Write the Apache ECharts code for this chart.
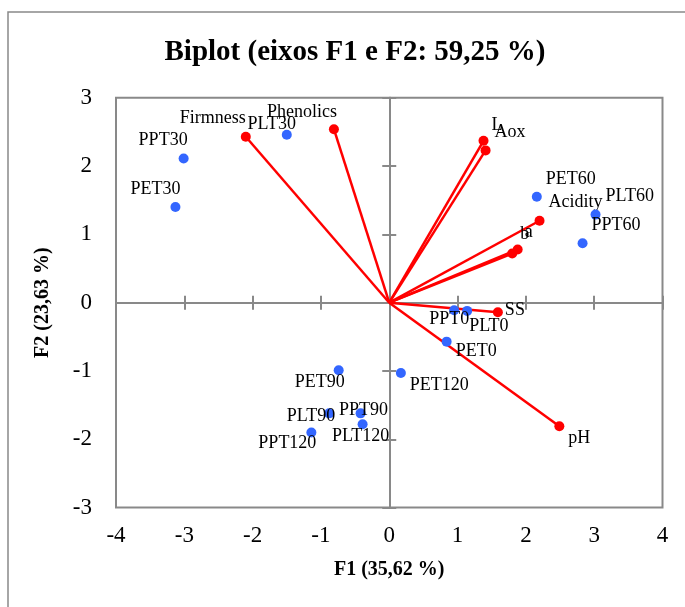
<!DOCTYPE html>
<html><head><meta charset="utf-8">
<script src="https://cdn.jsdelivr.net/npm/echarts@6/dist/echarts.min.js"></script>
<style>html,body{margin:0;padding:0;background:#fff}#c{width:685px;height:607px}</style>
</head><body><div id="c"></div>
<script>
// ---- data ----
const titleText = 'Biplot (eixos F1 e F2: 59,25 %)';
const xName = 'F1 (35,62 %)';
const yName = 'F2 (23,63 %)';
const xTicks = [-4, -3, -2, -1, 0, 1, 2, 3, 4];
const yTicks = [-3, -2, -1, 0, 1, 2, 3];
const varNames = ['Firmness', 'Phenolics', 'L', 'Aox', 'Acidity', 'b', 'a', 'SS', 'pH'];
const varF1 = [-2.10, -0.81, 1.38, 1.41, 2.20, 1.80, 1.88, 1.59, 2.49];
const varF2 = [2.43, 2.54, 2.37, 2.23, 1.20, 0.72, 0.78, -0.14, -1.81];
const obsNames = ['PLT30', 'PPT30', 'PET30', 'PET60', 'PLT60', 'PPT60', 'PPT0', 'PLT0', 'PET0', 'PET120', 'PET90', 'PLT90', 'PPT90', 'PLT120', 'PPT120'];
const obsF1 = [-1.50, -3.01, -3.13, 2.16, 3.02, 2.83, 0.95, 1.14, 0.84, 0.17, -0.74, -0.88, -0.42, -0.39, -1.14];
const obsF2 = [2.46, 2.11, 1.40, 1.55, 1.29, 0.87, -0.11, -0.12, -0.57, -1.03, -0.99, -1.62, -1.62, -1.78, -1.90];

// ---- label placement (style, not data): [align, dx, dy] ----
const labelPlace = {
  Firmness: ['right', 0, -18], Phenolics: ['right', 3, -17], L: ['left', 8, -16], Aox: ['left', 9, -18],
  Acidity: ['left', 9, -18], b: ['left', 8, -19], a: ['left', 7, -17], SS: ['left', 7, -2], pH: ['left', 9, 12],
  PLT30: ['center', -15, -10], PPT30: ['right', 4, -18], PET30: ['right', 5, -18],
  PET60: ['left', 9, -18], PLT60: ['left', 10, -18], PPT60: ['left', 9, -18],
  PPT0: ['center', -5, 9], PLT0: ['left', 2, 15], PET0: ['left', 9, 10], PET120: ['left', 9, 12],
  PET90: ['right', 6, 12], PLT90: ['right', 6, 3], PPT90: ['center', 3, -3], PLT120: ['center', -2, 12],
  PPT120: ['right', 5, 11]
};

const FONT = 'Liberation Serif';
const GRAY = '#898989';
const labelStyle = name => {
  const p = labelPlace[name];
  return { show: true, position: 'inside', align: p[0], verticalAlign: 'middle', offset: [p[1], p[2]],
           formatter: name, fontFamily: FONT, fontSize: 18, color: '#000' };
};

const xMin = xTicks[0], xMax = xTicks[xTicks.length - 1];
const yMin = yTicks[0], yMax = yTicks[yTicks.length - 1];
const zeroAxis = (inside) => ({
  type: 'value', min: null, max: null, interval: 1,
  axisLine: { show: true, onZero: true, onZeroAxisIndex: 0, lineStyle: { color: GRAY, width: 2 } },
  axisTick: { show: true, inside: inside, length: 7, lineStyle: { color: GRAY, width: 2 } },
  axisLabel: { show: false }, splitLine: { show: false }
});
const xZero = inside => Object.assign(zeroAxis(inside), { min: xMin, max: xMax, position: 'bottom' });
const yZero = inside => Object.assign(zeroAxis(inside), { min: yMin, max: yMax, position: 'left' });

const chart = echarts.init(document.getElementById('c'), null, { renderer: 'canvas' });
chart.setOption({
  animation: false,
  backgroundColor: '#fff',
  graphic: [{
    type: 'rect', shape: { x: 8, y: 12, width: 720, height: 640 },
    style: { fill: 'rgba(0,0,0,0)', stroke: GRAY, lineWidth: 1.5 }, z: -10, silent: true
  }],
  title: {
    text: titleText, left: 350, top: 33, textAlign: 'center',
    textStyle: { fontFamily: FONT, fontSize: 29, fontWeight: 'bold', color: '#000' }
  },
  grid: { left: 116, right: 22.5, top: 97.8, bottom: 99.4, show: true, borderColor: GRAY, borderWidth: 2,
          backgroundColor: 'rgba(0,0,0,0)', containLabel: false, outerBoundsMode: 'none' },
  xAxis: [
    { type: 'value', min: xMin, max: xMax, interval: 1, position: 'bottom',
      axisLine: { show: false, onZero: false }, axisTick: { show: false }, splitLine: { show: false },
      axisLabel: { fontFamily: FONT, fontSize: 23, color: '#000', margin: 17 },
      name: xName, nameLocation: 'middle', nameGap: 52,
      nameTextStyle: { fontFamily: FONT, fontSize: 20, fontWeight: 'bold', color: '#000' } },
    xZero(false), xZero(true)
  ],
  yAxis: [
    { type: 'value', min: yMin, max: yMax, interval: 1, position: 'left',
      axisLine: { show: false, onZero: false }, axisTick: { show: false }, splitLine: { show: false },
      axisLabel: { fontFamily: FONT, fontSize: 23, color: '#000', margin: 24 },
      name: yName, nameLocation: 'middle', nameGap: 63,
      nameTextStyle: { fontFamily: FONT, fontSize: 20, fontWeight: 'bold', color: '#000' } },
    yZero(false), yZero(true)
  ],
  series: [
    { type: 'lines', coordinateSystem: 'cartesian2d', xAxisIndex: 0, yAxisIndex: 0, silent: true, z: 2,
      lineStyle: { color: '#ff0000', width: 2.5, opacity: 1 },
      data: varNames.map((n, i) => ({ coords: [[0, 0], [varF1[i], varF2[i]]] })) },
    { type: 'scatter', xAxisIndex: 0, yAxisIndex: 0, symbolSize: 10, z: 3,
      itemStyle: { color: '#ff0000', opacity: 1 },
      data: varNames.map((n, i) => ({ name: n, value: [varF1[i], varF2[i]], label: labelStyle(n) })) },
    { type: 'scatter', xAxisIndex: 0, yAxisIndex: 0, symbolSize: 10, z: 4,
      itemStyle: { color: '#3366ff', opacity: 1 },
      data: obsNames.map((n, i) => ({ name: n, value: [obsF1[i], obsF2[i]], label: labelStyle(n) })) }
  ]
});
</script>
</body></html>
